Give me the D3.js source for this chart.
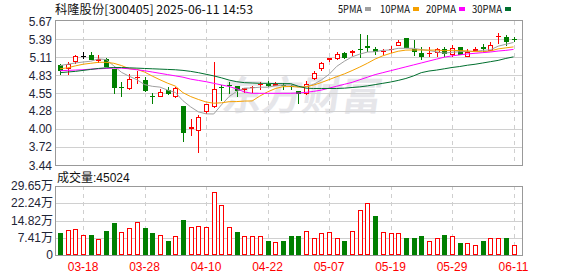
<!DOCTYPE html>
<html>
<head>
<meta charset="utf-8">
<script src="https://cdn.jsdelivr.net/npm/d3@7"></script>
<style>
  body { margin: 0; background: #fff; }
  svg { display: block; }
</style>
</head>
<body>
<div id="chart"></div>
<script>
// daily candles, 2025-03-13 .. 2025-06-11
const dates = ["03-13","03-14","03-17","03-18","03-19","03-20","03-21","03-24","03-25","03-26",
  "03-27","03-28","03-31","04-01","04-02","04-03","04-07","04-08","04-09","04-10",
  "04-11","04-14","04-15","04-16","04-17","04-18","04-21","04-22","04-23","04-24",
  "04-25","04-28","04-29","04-30","05-06","05-07","05-08","05-09","05-12","05-13",
  "05-14","05-15","05-16","05-19","05-20","05-21","05-22","05-23","05-26","05-27",
  "05-28","05-29","05-30","06-03","06-04","06-05","06-06","06-09","06-10","06-11"];

const openP = [4.99,4.92,5.04,5.13,5.14,5.05,5.075,4.92,4.645,4.62,
  4.78,4.76,4.515,4.50,4.60,4.49,4.354,3.99,3.965,4.255,
  4.344,4.65,4.68,4.66,4.60,4.637,4.68,4.69,4.67,4.685,
  4.665,4.58,4.54,4.77,4.92,5.07,5.08,5.18,5.18,5.235,
  5.29,5.235,5.185,5.22,5.29,5.40,5.24,5.175,5.17,5.175,
  5.235,5.145,5.275,5.115,5.21,5.275,5.205,5.42,5.425,5.39];
const highP = [5.01,5.04,5.15,5.19,5.19,5.14,5.10,4.93,4.72,4.855,
  4.90,4.80,4.56,4.615,4.65,4.65,4.354,4.15,4.22,4.39,
  5.035,4.675,4.72,4.67,4.625,4.66,4.72,4.74,4.73,4.71,
  4.68,4.58,4.74,4.89,5.04,5.09,5.185,5.19,5.22,5.47,
  5.45,5.27,5.24,5.29,5.37,5.40,5.37,5.27,5.27,5.25,
  5.27,5.305,5.275,5.24,5.265,5.31,5.34,5.49,5.46,5.42];
const lowP = [4.84,4.83,5.00,5.085,5.06,5.02,4.955,4.54,4.49,4.60,
  4.69,4.57,4.39,4.495,4.525,4.47,3.80,3.887,3.63,4.23,
  4.33,4.43,4.54,4.49,4.55,4.55,4.60,4.65,4.66,4.595,
  4.60,4.38,4.53,4.75,4.90,5.04,5.06,5.085,5.13,5.10,
  5.19,5.15,5.15,5.18,5.28,5.25,5.13,5.07,5.12,5.12,
  5.12,5.12,5.15,5.115,5.21,5.19,5.205,5.31,5.28,5.34];
const closeP = [4.90,5.01,5.125,5.13,5.07,5.08,4.96,4.634,4.64,4.77,
  4.81,4.58,4.505,4.564,4.54,4.626,3.94,4.03,4.18,4.385,
  4.617,4.645,4.675,4.58,4.625,4.647,4.70,4.67,4.69,4.68,
  4.66,4.545,4.70,4.86,5.02,5.09,5.165,5.10,5.20,5.23,
  5.25,5.195,5.20,5.24,5.35,5.255,5.185,5.105,5.175,5.24,
  5.155,5.255,5.15,5.195,5.24,5.235,5.30,5.43,5.34,5.385];
const prevClose = 4.95; // close before the first candle

// volume, in 万 (10k)
const volume = [9.4,10.6,11.3,8.4,8.4,6.7,10.2,13.8,9.7,11.8,
  14.1,11.5,9.4,8.4,6.2,8.0,15.0,11.9,12.3,11.9,
  27.2,21.7,11.9,9.9,8.0,8.0,8.0,5.9,5.4,5.9,
  8.1,8.1,10.2,7.4,9.3,9.7,7.4,6.2,10.2,19.3,
  22.3,16.7,9.7,9.3,9.3,7.5,7.1,8.1,6.2,7.1,
  8.4,8.2,5.1,5.0,4.5,6.2,7.5,7.1,7.5,4.5024];

// moving averages
const ma5 = [4.98,5.00,5.02,5.035,5.047,5.083,5.073,4.975,4.875,4.815,
  4.761,4.685,4.659,4.646,4.600,4.563,4.435,4.340,4.263,4.232,
  4.230,4.371,4.500,4.580,4.628,4.634,4.645,4.644,4.666,4.677,
  4.680,4.649,4.655,4.689,4.757,4.843,4.967,5.047,5.115,5.157,
  5.189,5.195,5.215,5.223,5.247,5.248,5.246,5.227,5.214,5.192,
  5.172,5.186,5.195,5.199,5.199,5.215,5.224,5.280,5.309,5.338];
const ma10 = [4.93,4.945,4.975,5.00,5.015,5.03,5.03,5.015,4.98,4.931,
  4.922,4.879,4.817,4.760,4.707,4.662,4.560,4.500,4.455,4.416,
  4.397,4.403,4.420,4.422,4.430,4.432,4.508,4.572,4.623,4.653,
  4.657,4.647,4.650,4.678,4.717,4.762,4.808,4.851,4.902,4.957,
  5.016,5.081,5.131,5.169,5.202,5.219,5.221,5.221,5.219,5.220,
  5.210,5.216,5.211,5.207,5.196,5.194,5.205,5.238,5.254,5.269];
const ma20 = [4.90,4.905,4.91,4.915,4.925,4.93,4.935,4.94,4.94,4.93,
  4.915,4.90,4.88,4.86,4.84,4.82,4.80,4.77,4.75,4.73,
  4.705,4.68,4.655,4.62,4.57,4.55,4.55,4.55,4.55,4.55,
  4.55,4.555,4.565,4.58,4.60,4.63,4.66,4.69,4.72,4.76,
  4.80,4.84,4.87,4.90,4.93,4.96,4.99,5.02,5.05,5.08,
  5.11,5.13,5.145,5.16,5.17,5.18,5.19,5.205,5.215,5.23];
const ma30 = [4.87,4.88,4.89,4.905,4.92,4.935,4.945,4.95,4.95,4.945,
  4.94,4.935,4.93,4.925,4.92,4.915,4.905,4.89,4.87,4.845,
  4.82,4.79,4.755,4.73,4.715,4.71,4.705,4.705,4.70,4.70,
  4.70,4.66,4.63,4.625,4.625,4.625,4.625,4.63,4.64,4.65,
  4.665,4.685,4.705,4.725,4.75,4.78,4.82,4.87,4.895,4.91,
  4.93,4.95,4.965,4.985,5.00,5.02,5.04,5.06,5.09,5.115];

const priceTicks = [3.44,3.72,4.00,4.28,4.55,4.83,5.11,5.39,5.67];
const volTicks = [0,7.41,14.82,22.24,29.65];
const dateTicks = ["03-18","03-28","04-10","04-22","05-07","05-19","05-29","06-11"];

const maNames = ["5PMA","10PMA","20PMA","30PMA"];
const maColors = ["#a0a0a0","#f5a000","#ff00ff","#006f2e"];

const red = "#ff0000", green = "#007f00";

const width = 578, height = 276;
const plotLeft = 55.5, plotRight = 522.5;

const svg = d3.select("#chart").append("svg")
    .attr("width", width)
    .attr("height", height)
    .style("font-family", "'Liberation Sans', Arial, 'Noto Sans CJK SC', sans-serif");

const x = d3.scalePoint().domain(dates).range([60, 513.5]);
const y = d3.scaleLinear().domain([3.44, 5.67]).range([165, 21]);
const yv = d3.scaleLinear().domain([0, 29.65]).range([255, 186]);
const px = v => Math.round(v) + 0.5;

// header
svg.append("text")
    .attr("x", 55).attr("y", 13.5)
    .attr("font-family", "'Noto Sans CJK SC', sans-serif")
    .attr("font-size", 12)
    .attr("textLength", 198).attr("lengthAdjust", "spacingAndGlyphs")
    .attr("fill", "#111")
    .text("科隆股份[300405] 2025-06-11 14:53");

const legendX = [338, 380, 426, 472];
maNames.forEach((name, i) => {
    svg.append("text")
        .attr("x", legendX[i]).attr("y", 13)
        .attr("font-family", "'Noto Sans CJK SC', sans-serif")
        .attr("font-size", 11)
        .attr("textLength", name.length * 6).attr("lengthAdjust", "spacingAndGlyphs")
        .attr("fill", "#111")
        .text(name);
    svg.append("rect")
        .attr("x", legendX[i] + name.length * 6 + 3).attr("y", 7)
        .attr("width", 6).attr("height", 4)
        .attr("fill", maColors[i]);
});

// watermark
svg.append("text")
    .attr("x", 222).attr("y", 110)
    .attr("font-family", "'Noto Sans CJK SC', sans-serif")
    .attr("font-size", 40).attr("font-weight", "bold")
    .attr("fill", "#e6e6ea")
    .attr("transform", "skewX(-8) translate(14,0)")
    .text("东方财富");

// grids
const grid = svg.append("g").attr("shape-rendering", "crispEdges");
grid.selectAll(".hp").data(priceTicks.slice(1, -1)).enter().append("line")
    .attr("x1", plotLeft).attr("x2", plotRight)
    .attr("y1", d => px(y(d))).attr("y2", d => px(y(d)))
    .attr("stroke", "#d0d0d0");
grid.selectAll(".hv").data(volTicks.slice(1, -1)).enter().append("line")
    .attr("x1", plotLeft).attr("x2", plotRight)
    .attr("y1", d => px(yv(d))).attr("y2", d => px(yv(d)))
    .attr("stroke", "#d0d0d0");
dateTicks.forEach(d => {
    [[21, 165], [186, 255]].forEach(r => {
        grid.append("line")
            .attr("x1", px(x(d))).attr("x2", px(x(d)))
            .attr("y1", r[0]).attr("y2", r[1])
            .attr("stroke", "#cfcfcf")
            .attr("stroke-dasharray", "4,4");
    });
});

// frames
[[20.5, 165.5], [186.5, 255.5]].forEach(r => {
    svg.append("rect")
        .attr("x", plotLeft).attr("y", r[0])
        .attr("width", plotRight - plotLeft).attr("height", r[1] - r[0])
        .attr("fill", "none").attr("stroke", "#999")
        .attr("shape-rendering", "crispEdges");
});

// axis labels
svg.selectAll(".pl").data(priceTicks).enter().append("text")
    .attr("x", 52).attr("y", d => y(d) + 4.5)
    .attr("text-anchor", "end")
    .attr("font-size", 12)
    .attr("fill", "#1e2436")
    .text(d => d.toFixed(2));
svg.selectAll(".vl").data(volTicks).enter().append("text")
    .attr("x", 53).attr("y", d => yv(d) + 4)
    .attr("text-anchor", "end")
    .attr("font-size", 12)
    .attr("fill", "#1e2436")
    .text(d => d === 0 ? "0" : d.toFixed(2) + "万");
svg.selectAll(".dl").data(dateTicks).enter().append("text")
    .attr("x", d => x(d)).attr("y", 271)
    .attr("text-anchor", "middle")
    .attr("font-size", 12)
    .attr("fill", red)
    .text(d => d);

svg.append("text")
    .attr("x", 57).attr("y", 181.5)
    .attr("font-size", 12)
    .attr("fill", "#111")
    .text("成交量:" + Math.round(volume[volume.length - 1] * 10000));

// candles
const candles = svg.append("g").attr("shape-rendering", "crispEdges");
dates.forEach((d, i) => {
    const o = openP[i], c = closeP[i];
    const cx = px(x(d));
    const col = c > o ? red : (c < o ? green : "#000");
    const top = Math.round(y(Math.max(o, c))), bot = Math.round(y(Math.min(o, c)));
    const hi = Math.round(y(highP[i])), lo = Math.round(y(lowP[i]));
    if (c > o && bot - top >= 2) {
        candles.append("line").attr("x1", cx).attr("x2", cx).attr("y1", hi).attr("y2", top).attr("stroke", col);
        candles.append("line").attr("x1", cx).attr("x2", cx).attr("y1", bot).attr("y2", lo).attr("stroke", col);
        candles.append("rect")
            .attr("x", cx - 2).attr("y", top + 0.5)
            .attr("width", 4).attr("height", bot - top - 1)
            .attr("fill", "#fff").attr("stroke", col);
    } else {
        candles.append("line").attr("x1", cx).attr("x2", cx).attr("y1", hi).attr("y2", lo).attr("stroke", col);
        candles.append("rect")
            .attr("x", cx - 2.5).attr("y", top)
            .attr("width", 5).attr("height", Math.max(1, bot - top))
            .attr("fill", col);
    }
});

// moving average lines
[ma5, ma10, ma20, ma30].forEach((ma, k) => {
    const line = d3.line()
        .x((v, i) => x(dates[i]))
        .y(v => y(v));
    svg.append("path")
        .datum(ma)
        .attr("d", line)
        .attr("fill", "none")
        .attr("stroke", maColors[k])
        .attr("stroke-width", 1);
});

// volume bars
const vols = svg.append("g").attr("shape-rendering", "crispEdges");
dates.forEach((d, i) => {
    const before = i === 0 ? prevClose : closeP[i - 1];
    const up = closeP[i] >= before;
    const cx = px(x(d));
    const t = Math.round(yv(volume[i]));
    if (up) {
        vols.append("rect")
            .attr("x", cx - 2).attr("y", t + 0.5)
            .attr("width", 4).attr("height", 255 - t - 1)
            .attr("fill", "#fff").attr("stroke", red);
    } else {
        vols.append("rect")
            .attr("x", cx - 2.5).attr("y", t)
            .attr("width", 5).attr("height", 255 - t)
            .attr("fill", green);
    }
});
</script>
</body>
</html>
